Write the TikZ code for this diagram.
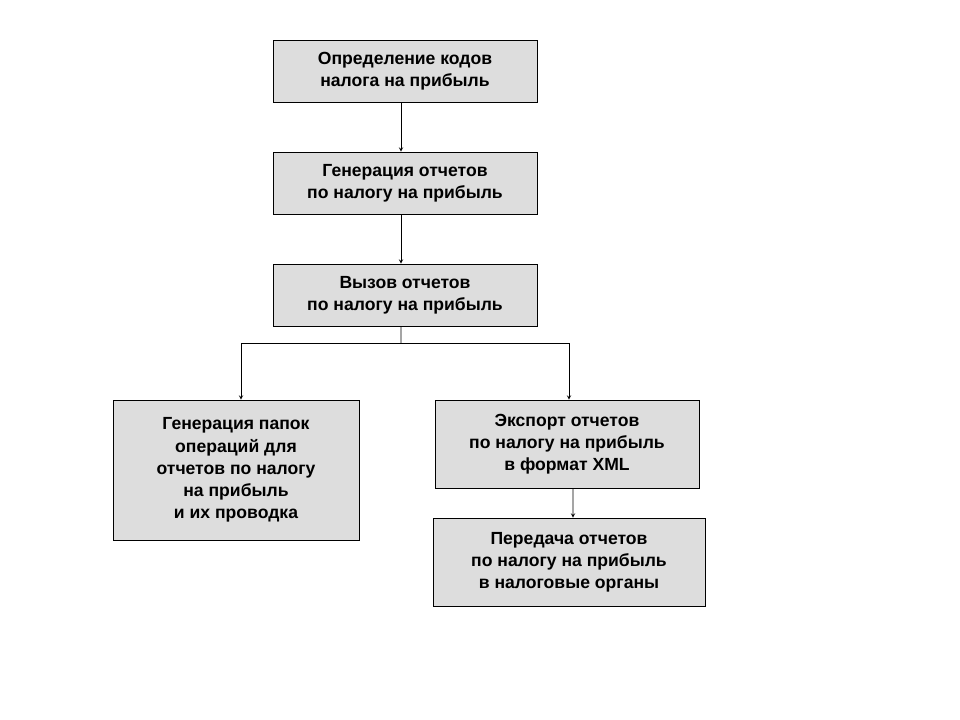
\documentclass[tikz,border=0pt]{standalone}
\usepackage{fontspec}
\setmainfont{Liberation Sans}
\usetikzlibrary{arrows}
\definecolor{boxgray}{HTML}{DDDDDD}

\begin{document}
\begin{tikzpicture}[x=0.025cm,y=-0.025cm]
\tikzstyle{block} = [rectangle, draw=black, fill=boxgray, align=center,
font=\fontsize{12.5}{15.8}\selectfont\bfseries, inner sep=0pt]
\tikzstyle{line} = [draw, ->, >=stealth];
\useasboundingbox (0,0) rectangle (960,720);
% top column
\node [block, minimum width=6.6cm, minimum height=1.55cm] (codes) at (405,71)
  {Определение кодов\\налога на прибыль};
\node [block, minimum width=6.6cm, minimum height=1.55cm] (generate) at (405,183)
  {Генерация отчетов\\по налогу на прибыль};
\node [block, minimum width=6.6cm, minimum height=1.55cm] (call) at (405,295)
  {Вызов отчетов\\по налогу на прибыль};
% branches
\node [block, minimum width=6.15cm, minimum height=3.5cm] (folders) at (236,470)
  {Генерация папок\\операций для\\отчетов  по налогу\\на прибыль\\и их проводка};
\node [block, minimum width=6.6cm, minimum height=2.2cm] (export) at (567,444)
  {Экспорт отчетов\\по налогу на прибыль\\в формат XML};
\node [block, minimum width=6.8cm, minimum height=2.2cm] (send) at (569,562)
  {Передача отчетов\\по налогу на прибыль\\в налоговые органы};
\coordinate (fork) at (401,343);
\tikzstyle{every path}=[line]
\path ([xshift=-0.1cm]codes.south) -- ([xshift=-0.1cm]generate.north);
\path ([xshift=-0.1cm]generate.south) -- ([xshift=-0.1cm]call.north);
\draw[-] ([xshift=-0.1cm]call.south) -- (fork);
\path (fork) -| ([xshift=0.125cm]folders.north);
\path (fork) -| ([xshift=0.05cm]export.north);
\path ([xshift=0.15cm]export.south) -- ([xshift=0.1cm]send.north);
\end{tikzpicture}
\end{document}
